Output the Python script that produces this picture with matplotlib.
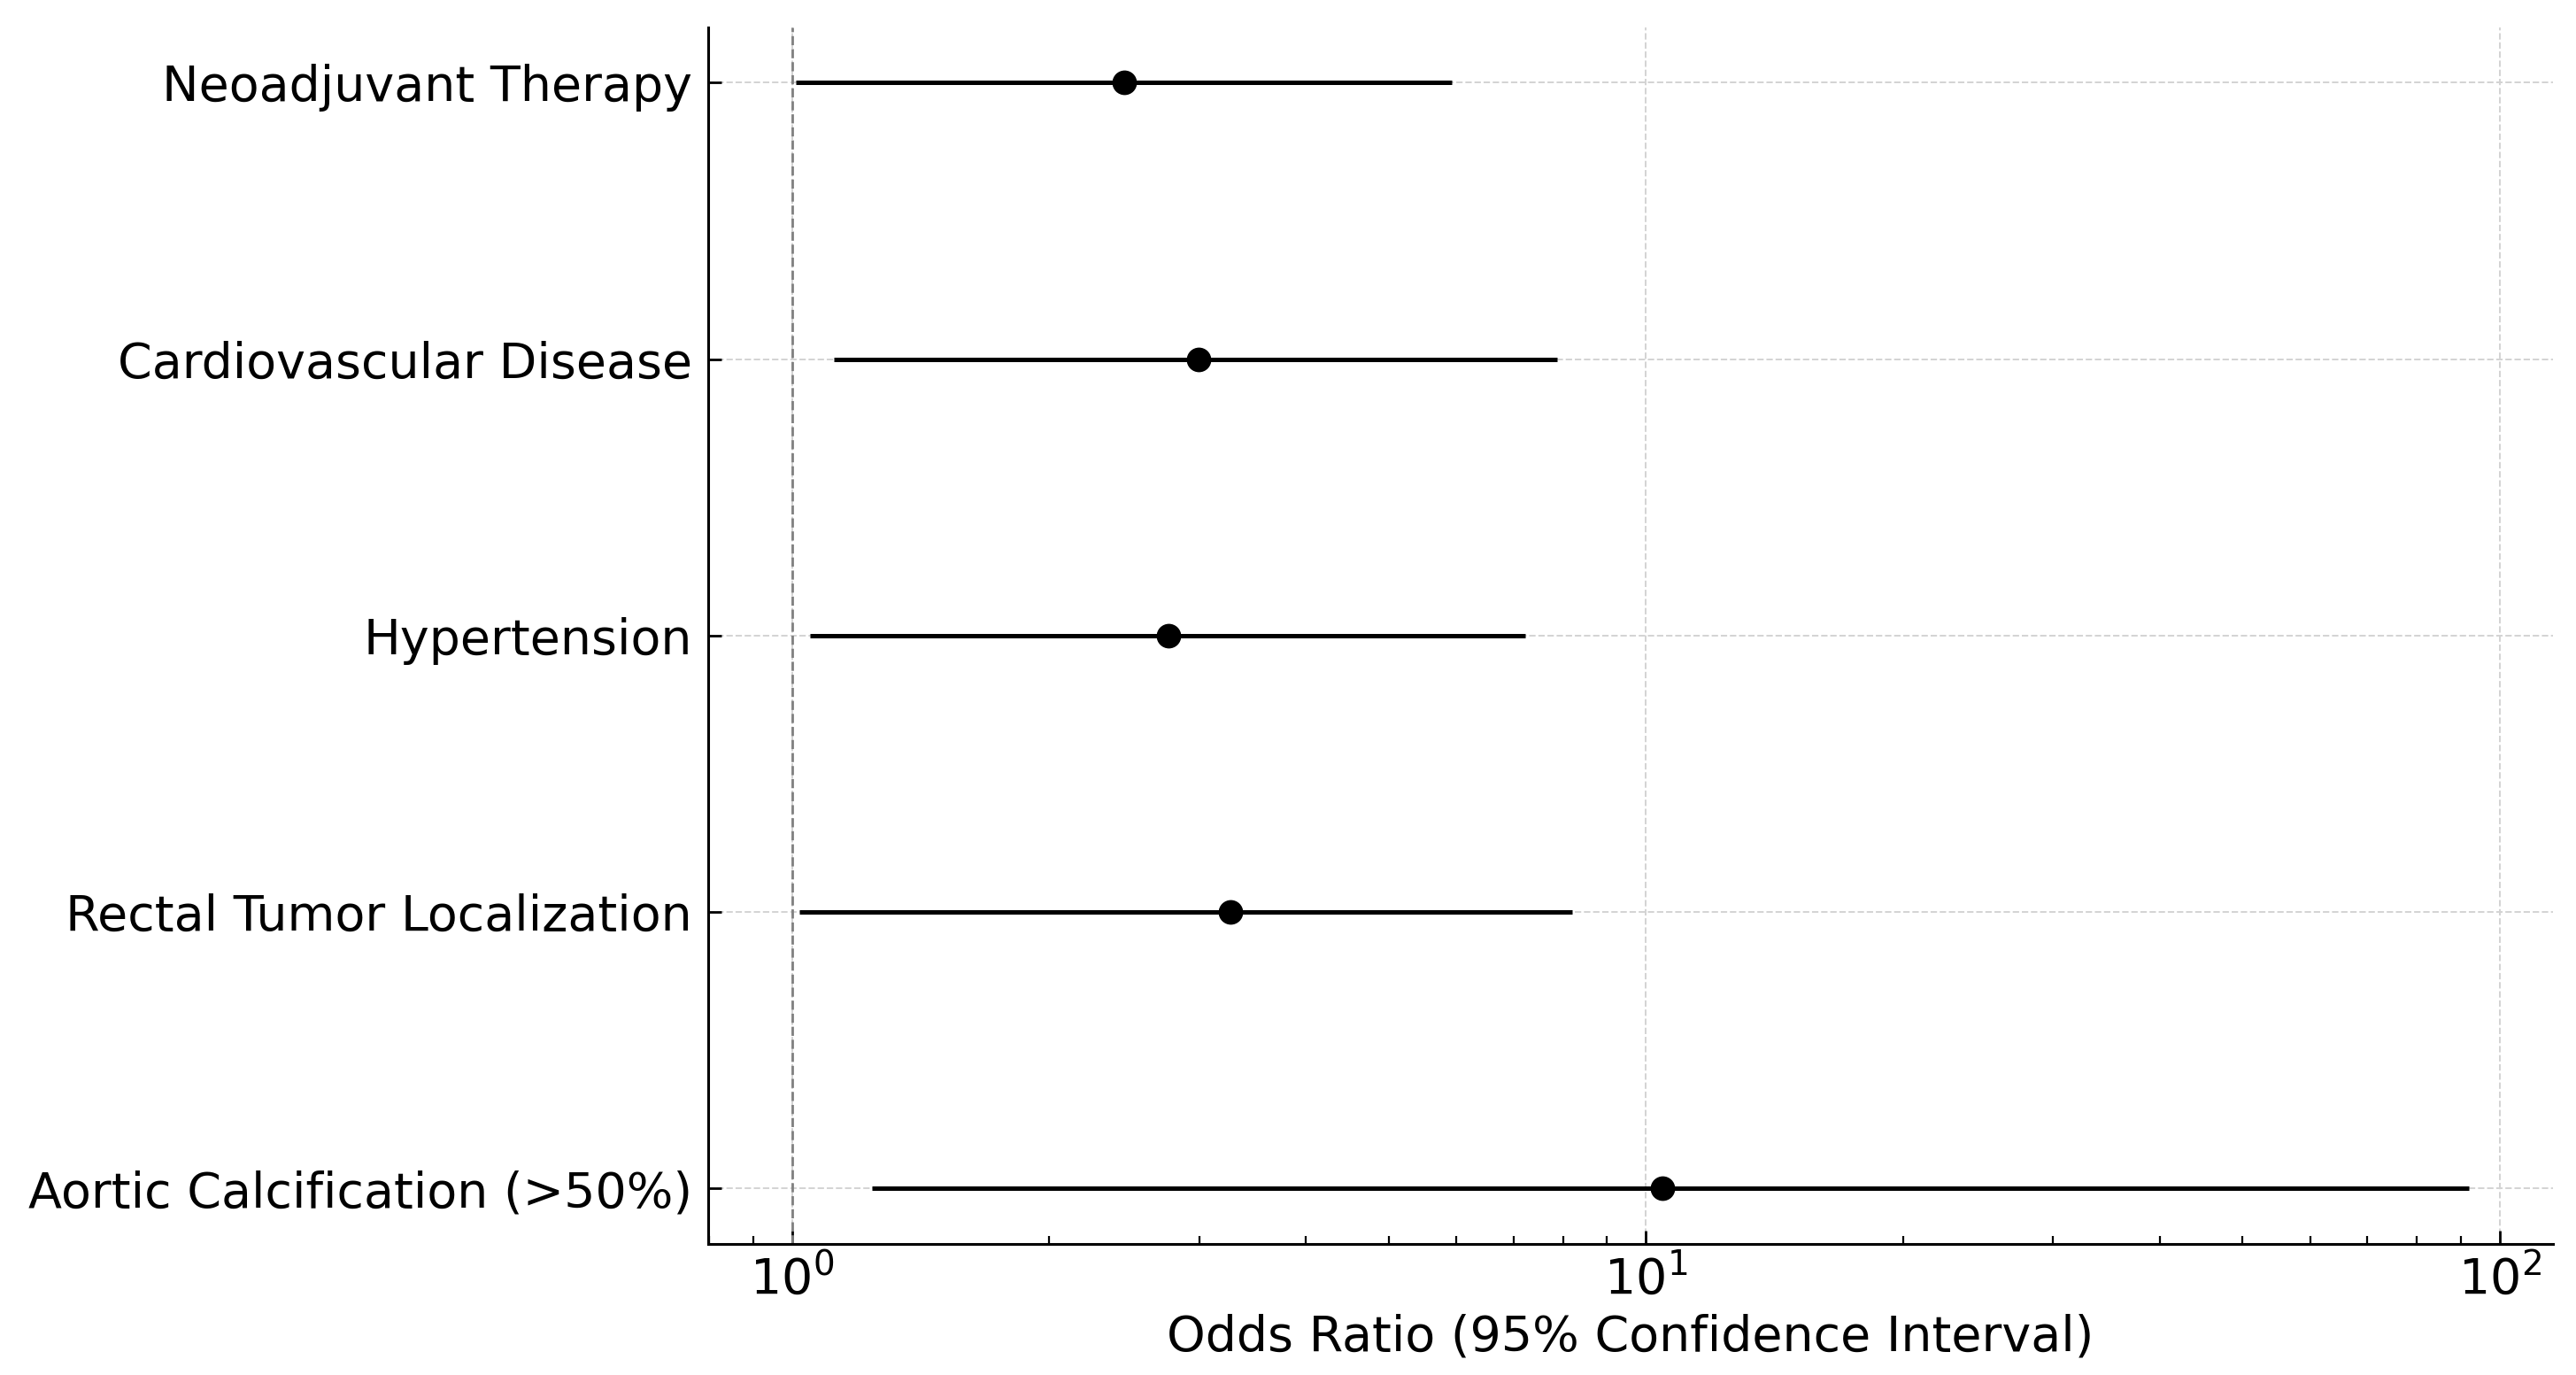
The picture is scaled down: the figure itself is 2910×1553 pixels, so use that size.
import matplotlib
matplotlib.use("Agg")
import matplotlib.pyplot as plt
import numpy as np

# factors, top to bottom
factors = ["Neoadjuvant Therapy", "Cardiovascular Disease", "Hypertension",
           "Rectal Tumor Localization", "Aortic Calcification (>50%)"]
odds_ratio = [2.45, 2.99, 2.76, 3.26, 10.45]
ci_lower = [1.01, 1.12, 1.05, 1.02, 1.24]
ci_upper = [5.93, 7.88, 7.23, 8.20, 92.1]

# bottom to top for plotting
factors = factors[::-1]
odds_ratio = np.array(odds_ratio[::-1])
ci_lower = np.array(ci_lower[::-1])
ci_upper = np.array(ci_upper[::-1])
y = np.arange(len(factors))

fig = plt.figure(figsize=(14.55, 7.765), dpi=200)
ax = fig.add_axes([0.2749, 0.0956, 0.7162, 0.8844])

ax.errorbar(odds_ratio, y, xerr=[odds_ratio - ci_lower, ci_upper - odds_ratio],
            fmt='o', color='black', ecolor='black', elinewidth=1.8,
            markersize=9, capsize=0, zorder=3)
ax.axvline(x=1, color='gray', linestyle='--', linewidth=1.0, zorder=2)

ax.set_xscale('log')
ax.set_yticks(y)
ax.set_yticklabels(factors)
ax.set_xlabel("Odds Ratio (95% Confidence Interval)", fontsize=20)

ax.tick_params(axis='both', which='major', labelsize=20, direction='in',
               length=5.4, width=1.0, color='black')
ax.tick_params(axis='y', which='major', pad=6.5)
ax.tick_params(axis='x', which='major', pad=4.5)
ax.tick_params(axis='x', which='minor', direction='in', length=3.2, width=0.8)

ax.grid(True, which='major', linestyle='--', linewidth=0.7, color='#d3d3d3')
ax.set_axisbelow(True)

ax.spines['top'].set_visible(False)
ax.spines['right'].set_visible(False)
ax.spines['left'].set_linewidth(1.1)
ax.spines['bottom'].set_linewidth(1.1)

fig.savefig("out.png", dpi=200)
